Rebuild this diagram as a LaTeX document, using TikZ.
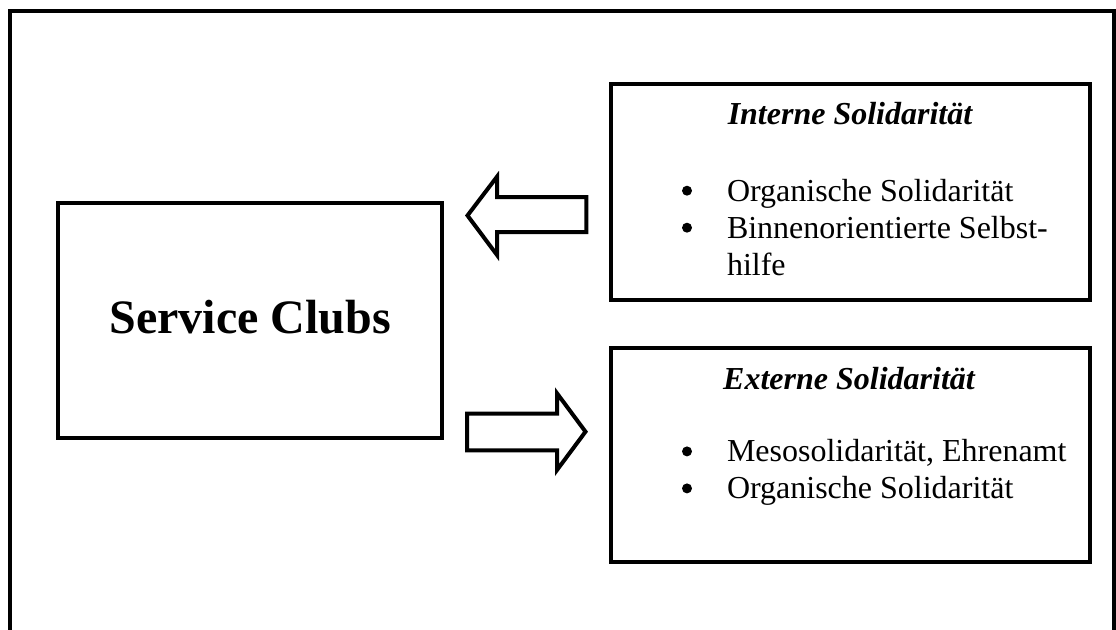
\documentclass[tikz,border=0pt]{standalone}
\usepackage{fontspec}
\setmainfont{Liberation Serif}
\begin{document}
\begin{tikzpicture}[x=1pt,y=-1pt,
  frame/.style={draw=black,line width=4pt},
  box/.style={draw=black,line width=4pt,inner sep=0pt},
  txt/.style={inner sep=0pt,outer sep=0pt,anchor=base west,font=\fontsize{32}{37}\selectfont},
  head/.style={inner sep=0pt,outer sep=0pt,anchor=base,font=\fontsize{32}{37}\selectfont\bfseries\itshape},
  big/.style={inner sep=0pt,outer sep=0pt,anchor=base,font=\fontsize{48}{55}\selectfont\bfseries},
  bul/.style={circle,fill=black,inner sep=0pt,minimum size=10pt},
  blockarrow/.style={draw=black,line width=4pt,line join=miter,fill=white}]
\useasboundingbox (0,0) rectangle (1116,629);
% outer frame (bottom edge lies below the picture)
\draw[frame] (10,640) |- (1114,11) -- (1114,640);
% Service Clubs
\node[box,minimum width=384pt,minimum height=235pt] (sc) at (250,320.5) {};
\node[big] (sclabel) at (250.3,333.3) {Service Clubs};
% Interne Solidaritaet
\node[box,minimum width=479pt,minimum height=216pt] (intbox) at (850.5,191.5) {};
\node[head] (inthead) at (850,124.3) {Interne Solidarität};
\node[bul] (ib1) at (687,190.7) {};
\node[txt] (it1) at (727,201) {Organische Solidarität};
\node[bul] (ib2) at (687,227.7) {};
\node[txt] (it2) at (727,238) {Binnenorientierte Selbst-};
\node[txt] (it3) at (727,275) {hilfe};
% Externe Solidaritaet
\node[box,minimum width=479pt,minimum height=214pt] (extbox) at (850.5,454.5) {};
\node[head] (exthead) at (849,389) {Externe Solidarität};
\node[bul] (eb1) at (687,451.4) {};
\node[txt] (et1) at (727,461.7) {Mesosolidarität, Ehrenamt};
\node[bul] (eb2) at (687,488.4) {};
\node[txt] (et2) at (727,498.4) {Organische Solidarität};
% block arrows
\draw[blockarrow] (467.5,215.5) -- (497,176.7) -- (497,197) -- (586.3,197)
  -- (586.3,232) -- (497,232) -- (497,255) -- cycle;
\draw[blockarrow] (585.5,431.7) -- (557,393.3) -- (557,413.7) -- (467,413.7)
  -- (467,450.3) -- (557,450.3) -- (557,470) -- cycle;
\end{tikzpicture}
\end{document}
